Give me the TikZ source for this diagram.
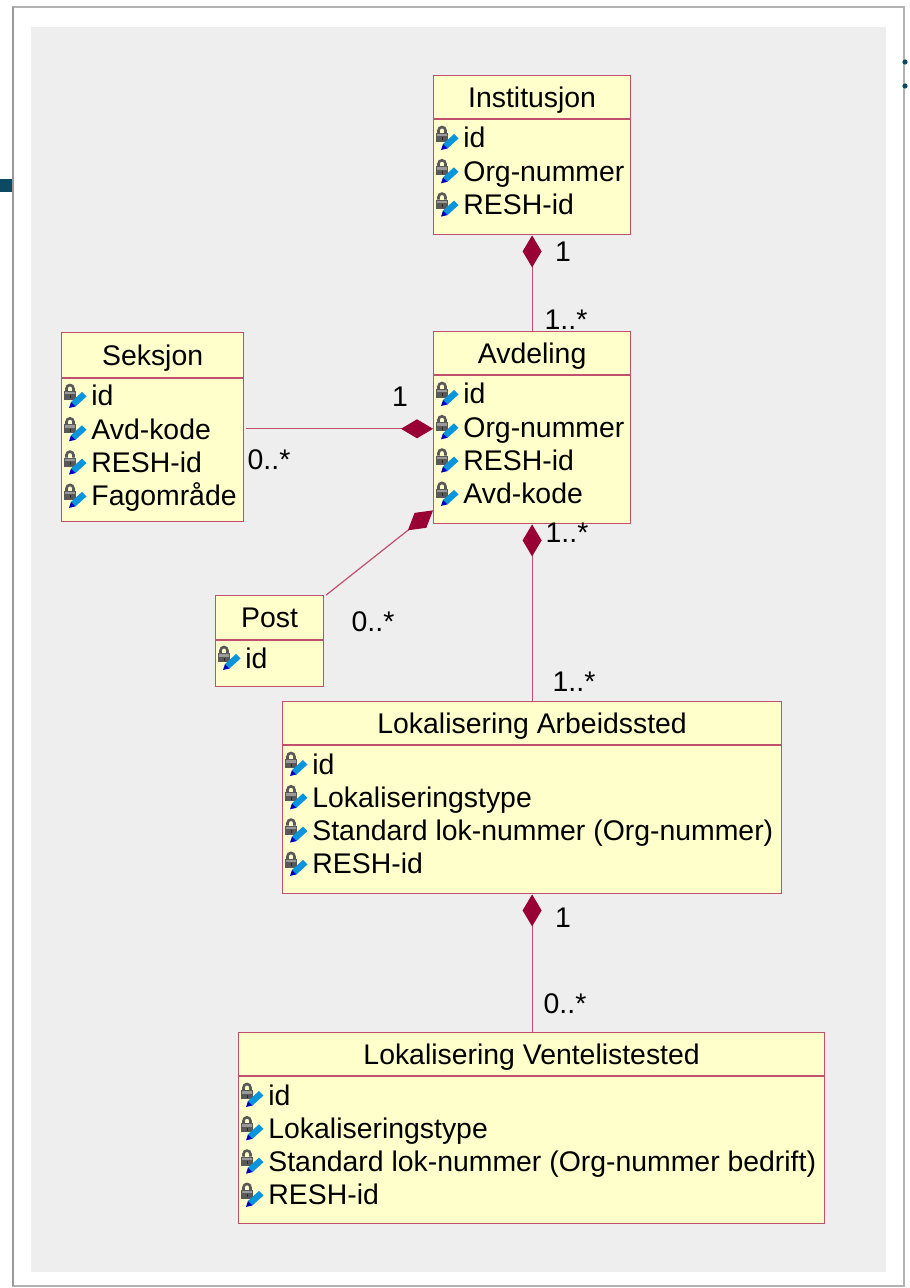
\documentclass[tikz,border=0pt]{standalone}
\usepackage{fontspec}
\setmainfont{Liberation Sans}
\usetikzlibrary{positioning,arrows.meta,calc}

\definecolor{umlfill}{HTML}{FFFFCC}
\definecolor{umlline}{HTML}{C0506E}
\definecolor{umltip}{HTML}{990033}
\definecolor{umlbg}{HTML}{EEEEEE}
\definecolor{slidebar}{HTML}{0B4A62}

\tikzset{
	every class/.style={draw=umlline, fill=umlfill, line width=0.6pt, inner sep=0pt, font=\fontsize{14.2}{17}\selectfont},
	class head/.style={every class, anchor=north west, minimum height=21.5pt, text height=10.2pt, text depth=0pt},
	class body/.style={every class},
	attr/.style={anchor=base west, inner sep=0pt, font=\fontsize{14.2}{17}\selectfont},
	mult/.style={inner sep=0pt, font=\fontsize{14.2}{17}\selectfont},
	comp/.style={draw=umlline, line width=0.6pt, -{Diamond[length=16pt,width=9.5pt,color=umltip,fill=umltip]}},
	attricon/.pic={
		% padlock
		\draw[black!65, line width=1.3pt] (-9.5,-5) -- (-9.5,-7.5) arc[start angle=180, end angle=360, radius=3.5] -- (-2.5,-5);
		\fill[black!65] (-12,-5) rectangle (0,4);
		\fill[black!40] (-11,-4) rectangle (-1,-1.5);
		\fill[black!85] (-6.5,-0.5) rectangle (-5,2.5);
		% pencil
		\fill[cyan!80!blue] (-5,6) -- (6,-4) -- (10.5,0.5) -- (-0.5,10.5) -- cycle;
		\fill[blue!75!black] (-5,6) -- (-0.5,10.5) -- (-7,12) -- cycle;
	}
}

\begin{document}
\begin{tikzpicture}[x=0.5pt, y=-0.5pt]

	\useasboundingbox (0,0) rectangle (909,1288);
	\fill[white] (0,0) rectangle (909,1288);
	\draw[black!30, line width=1pt] (13,7) rectangle (904,1286);
	\draw[black!40, line width=1.2pt] (13,7) -- (13,1286);
	\fill[umlbg] (31,27) rectangle (886,1272);
	\fill[slidebar] (0,179) rectangle (12,192);
	\fill[slidebar] (905,62) circle[radius=1.3pt];
	\fill[slidebar] (905,86) circle[radius=1.3pt];

	% classes
	\node[class head, minimum width=98.5pt] (inst) at (433,75) {Institusjon};
	\node[class body, minimum width=98.5pt, minimum height=57.5pt, below=0pt of inst] (inst-body) {};

	\node[class head, minimum width=98.5pt] (avd) at (433,331) {Avdeling};
	\node[class body, minimum width=98.5pt, minimum height=74pt, below=0pt of avd] (avd-body) {};

	\node[class head, minimum width=91pt, minimum height=22.5pt] (seks) at (61,332) {Seksjon};
	\node[class body, minimum width=91pt, minimum height=71.5pt, below=0pt of seks] (seks-body) {};

	\node[class head, minimum width=54pt, minimum height=22pt] (post) at (215,595) {Post};
	\node[class body, minimum width=54pt, minimum height=23pt, below=0pt of post] (post-body) {};

	\node[class head, minimum width=249.5pt] (lokarb) at (282,701) {Lokalisering Arbeidssted};
	\node[class body, minimum width=249.5pt, minimum height=74pt, below=0pt of lokarb] (lokarb-body) {};

	\node[class head, minimum width=293pt] (lokvent) at (238,1032) {Lokalisering Ventelistested};
	\node[class body, minimum width=293pt, minimum height=73.5pt, below=0pt of lokvent] (lokvent-body) {};

	% attributes
	\foreach \a [count=\i] in {id,Org-nummer,RESH-id}{
		\pic at (448,104.7+33.3*\i) {attricon};
		\node[attr] (inst-a\i) at (463,114.7+33.3*\i) {\a};
	}

	\foreach \a [count=\i] in {id,Org-nummer,RESH-id,Avd-kode}{
		\pic at (448,360.7+33.3*\i) {attricon};
		\node[attr] (avd-a\i) at (463,370.7+33.3*\i) {\a};
	}

	\foreach \a [count=\i] in {id,Avd-kode,RESH-id,Fagområde}{
		\pic at (76,362.7+33.3*\i) {attricon};
		\node[attr] (seks-a\i) at (91,372.7+33.3*\i) {\a};
	}

	\foreach \a [count=\i] in {id}{
		\pic at (230,624.7+33.3*\i) {attricon};
		\node[attr] (post-a\i) at (245,634.7+33.3*\i) {\a};
	}

	\foreach \a [count=\i] in {id,Lokaliseringstype,{Standard lok-nummer (Org-nummer)},RESH-id}{
		\pic at (297,730.7+33.3*\i) {attricon};
		\node[attr] (lokarb-a\i) at (312,740.7+33.3*\i) {\a};
	}

	\foreach \a [count=\i] in {id,Lokaliseringstype,{Standard lok-nummer (Org-nummer bedrift)},RESH-id}{
		\pic at (253,1061.7+33.3*\i) {attricon};
		\node[attr] (lokvent-a\i) at (268,1071.7+33.3*\i) {\a};
	}

	% compositions
	\draw[comp] (avd.north) -- (inst-body.south);
	\draw[comp] ([xshift=1pt, yshift=10.75pt]seks-body.east) -- ([yshift=10.75pt]seks-body.east -| avd-body.west);
	\draw[comp] ([xshift=1pt]post.north east) -- ([yshift=7pt]avd-body.south west);
	\draw[comp] (lokarb.north) -- (avd-body.south);
	\draw[comp] (lokvent.north -| lokarb.north) -- (lokarb-body.south);

	% multiplicities
	\node[mult] (m-inst) at (563,252) {1};
	\node[mult] (m-avd-up) at (566,320) {1..*};
	\node[mult] (m-avd-seks) at (400,397) {1};
	\node[mult] (m-seks) at (269,460) {0..*};
	\node[mult] (m-post) at (373,622) {0..*};
	\node[mult] (m-avd-down) at (567,533) {1..*};
	\node[mult] (m-lokarb-up) at (574,682) {1..*};
	\node[mult] (m-lokarb-down) at (563,918) {1};
	\node[mult] (m-lokvent) at (565,1004) {0..*};

\end{tikzpicture}
\end{document}
